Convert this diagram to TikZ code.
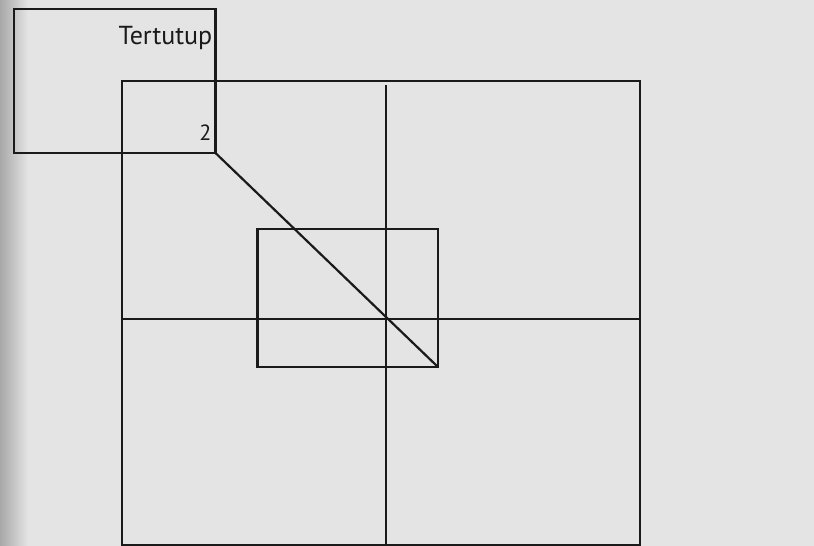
\documentclass[tikz,border=0pt]{standalone}
\usepackage{fontspec}
\newfontfamily\labfont{PT Sans}
\definecolor{ink}{HTML}{1A1A1A}
\definecolor{paper}{HTML}{E4E4E4}
\definecolor{paperdark}{HTML}{A8A8A8}
\begin{document}
\begin{tikzpicture}[x=1pt,y=-1pt,
  box/.style={draw=ink, line width=2.2pt, inner sep=0pt, outer sep=0pt, anchor=north west},
  ln/.style={draw=ink, line width=2.2pt},
  lab/.style={text=ink, inner sep=0pt, anchor=base east}]
\useasboundingbox (0,0) rectangle (814,546);
% paper
\fill[paper] (0,0) rectangle (814,546);
\shade[left color=paperdark, right color=paper] (0,0) rectangle (28,546);
% boxes
\node[box, minimum width=518pt, minimum height=464pt] (big) at (122,81) {};
\node[box, minimum width=201.5pt, minimum height=144pt] (small) at (14,9) {};
\node[box, minimum width=180.5pt, minimum height=138pt] (inner) at (257.5,229) {};
% cross
\coordinate (c) at (386,319);
\coordinate (vtop) at (386,85);
\draw[ln] (c -| big.west) -- (c -| big.east);
\draw[ln] (vtop) -- (c |- big.south);
% diagonal
\draw[ln] (small.south east) -- (inner.south east);
% labels
\node[lab, font=\labfont\fontsize{26}{26}\selectfont] (tt) at (212.5,44.3) {Tertutup};
\node[lab, font=\labfont\fontsize{22}{22}\selectfont] (two) at (211.5,140) {2};
\end{tikzpicture}
\end{document}
